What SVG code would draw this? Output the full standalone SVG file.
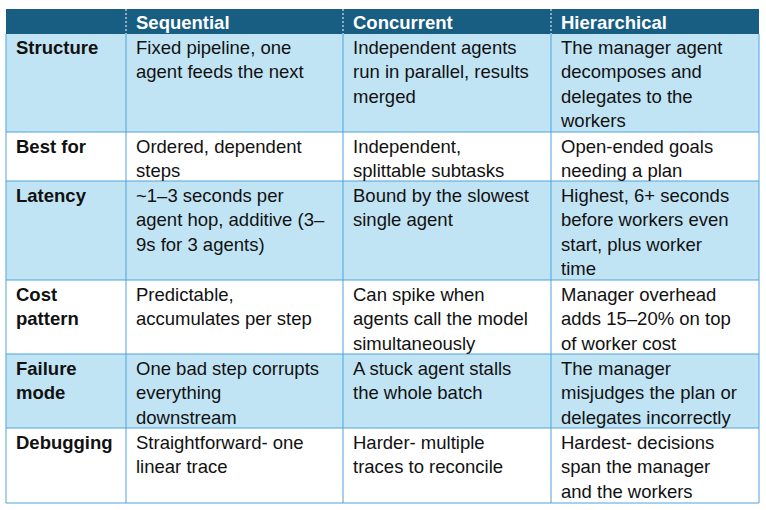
<svg xmlns="http://www.w3.org/2000/svg" width="766" height="510" viewBox="0 0 766 510">
<style>
text{font-family:"Liberation Sans",Arial,sans-serif;font-size:18.5px;fill:#111}
.h{fill:#fff;font-weight:bold}
.b{font-weight:bold}
.l{fill:#C1E4F5}
.g line{stroke:#4EA2DA;stroke-width:1}
</style>
<rect x="0" y="0" width="766" height="510" fill="#fff"/>
<rect x="6" y="9" width="753" height="25" fill="#175E82"/>
<rect class="l" x="6" y="34" width="753" height="98"/>
<rect class="l" x="6" y="181" width="753" height="99"/>
<rect class="l" x="6" y="354" width="753" height="74"/>
<g class="g">
<line x1="6" y1="34" x2="6" y2="503"/><line x1="759" y1="34" x2="759" y2="503"/>
<line x1="126" y1="34" x2="126" y2="503"/><line x1="343" y1="34" x2="343" y2="503"/><line x1="551" y1="34" x2="551" y2="503"/>
<line x1="6" y1="132" x2="759" y2="132"/><line x1="6" y1="181" x2="759" y2="181"/><line x1="6" y1="280" x2="759" y2="280"/>
<line x1="6" y1="354" x2="759" y2="354"/><line x1="6" y1="428" x2="759" y2="428"/><line x1="6" y1="503" x2="759" y2="503"/>
</g>
<g stroke="#fff" stroke-dasharray="2,2"><line x1="126" y1="9" x2="126" y2="34"/><line x1="343" y1="9" x2="343" y2="34"/><line x1="551" y1="9" x2="551" y2="34"/></g>
<g id="header"><text class="h" x="136" y="29">Sequential</text><text class="h" x="353" y="29">Concurrent</text><text class="h" x="561" y="29">Hierarchical</text></g>
<g id="structure"><text class="b" x="16" y="54">Structure</text>
<text x="136" y="54">Fixed pipeline, one</text><text x="136" y="78">agent feeds the next</text>
<text x="353" y="54">Independent agents</text><text x="353" y="78">run in parallel, results</text><text x="353" y="103">merged</text>
<text x="561" y="54">The manager agent</text><text x="561" y="78">decomposes and</text><text x="561" y="103">delegates to the</text><text x="561" y="127">workers</text></g>
<g id="bestfor"><text class="b" x="16" y="153">Best for</text>
<text x="136" y="153">Ordered, dependent</text><text x="136" y="177">steps</text>
<text x="353" y="153">Independent,</text><text x="353" y="177">splittable subtasks</text>
<text x="561" y="153">Open-ended goals</text><text x="561" y="177">needing a plan</text></g>
<g id="latency"><text class="b" x="16" y="202">Latency</text>
<text x="136" y="202">~1–3 seconds per</text><text x="136" y="226">agent hop, additive (3–</text><text x="136" y="251">9s for 3 agents)</text>
<text x="353" y="202">Bound by the slowest</text><text x="353" y="226">single agent</text>
<text x="561" y="202">Highest, 6+ seconds</text><text x="561" y="226">before workers even</text><text x="561" y="251">start, plus worker</text><text x="561" y="275">time</text></g>
<g id="cost"><text class="b" x="16" y="301">Cost</text><text class="b" x="16" y="325">pattern</text>
<text x="136" y="301">Predictable,</text><text x="136" y="325">accumulates per step</text>
<text x="353" y="301">Can spike when</text><text x="353" y="325">agents call the model</text><text x="353" y="350">simultaneously</text>
<text x="561" y="301">Manager overhead</text><text x="561" y="325">adds 15–20% on top</text><text x="561" y="350">of worker cost</text></g>
<g id="failure"><text class="b" x="16" y="375">Failure</text><text class="b" x="16" y="399">mode</text>
<text x="136" y="375">One bad step corrupts</text><text x="136" y="399">everything</text><text x="136" y="424">downstream</text>
<text x="353" y="375">A stuck agent stalls</text><text x="353" y="399">the whole batch</text>
<text x="561" y="375">The manager</text><text x="561" y="399">misjudges the plan or</text><text x="561" y="424">delegates incorrectly</text></g>
<g id="debugging"><text class="b" x="16" y="449">Debugging</text>
<text x="136" y="449">Straightforward- one</text><text x="136" y="473">linear trace</text>
<text x="353" y="449">Harder- multiple</text><text x="353" y="473">traces to reconcile</text>
<text x="561" y="449">Hardest- decisions</text><text x="561" y="473">span the manager</text><text x="561" y="498">and the workers</text></g>
</svg>
